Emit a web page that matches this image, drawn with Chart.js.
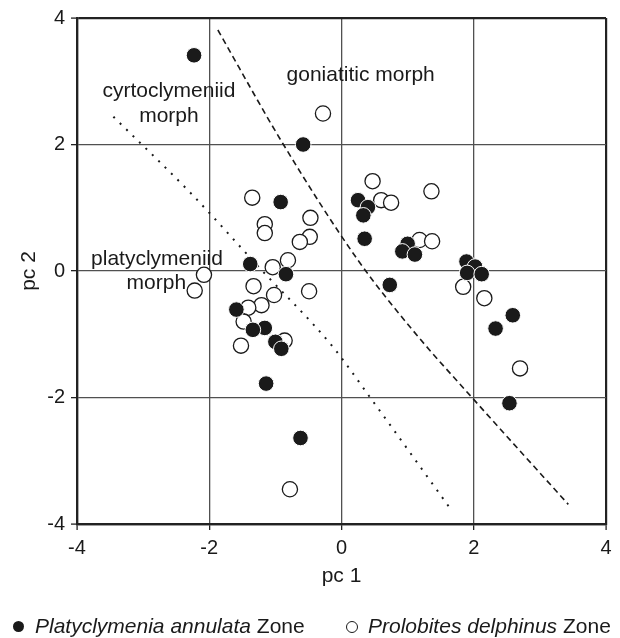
<!DOCTYPE html>
<html>
<head>
<meta charset="utf-8">
<script src="https://cdn.jsdelivr.net/npm/chart.js@4.4.1/dist/chart.umd.min.js"></script>
<style>
  html, body { margin: 0; padding: 0; background: #fff; }
  .wrap { position: relative; width: 620px; height: 638px; }
  .legend { position: absolute; top: 614px; left: 0; width: 620px; height: 24px;
    font-family: "Liberation Sans", Arial, sans-serif; font-size: 21px; color: #1a1a1a; }
  .legend .item { position: absolute; top: 0; white-space: nowrap; line-height: 24px; }
  .legend .dot { position: absolute; top: 7px; width: 11px; height: 11px; border-radius: 50%; box-sizing: border-box; }
  .legend i { font-style: italic; }
</style>
</head>
<body>
<div class="wrap">
  <canvas id="pcaChart" width="620" height="638"></canvas>
  <div class="legend">
    <span class="dot" style="left:13px;background:#1a1a1a;"></span>
    <span class="item" style="left:35px;"><i>Platyclymenia annulata</i> Zone</span>
    <span class="dot" style="left:346px;width:12px;height:12px;border:1.3px solid #1a1a1a;"></span>
    <span class="item" style="left:368px;"><i>Prolobites delphinus</i> Zone</span>
  </div>
</div>
<script>
// pc scores
const annulataX = [-2.23, -0.58, -0.92, -1.38, -0.84, -1.59, -1.16, -1.34, -1.00, -0.91, -1.14, -0.62,
  0.25, 0.40, 0.33, 0.35, 1.00, 0.92, 1.11, 0.73, 1.89, 2.02, 1.90, 2.12, 2.59, 2.33, 2.54];
const annulataY = [3.41, 2.00, 1.09, 0.11, -0.05, -0.61, -0.90, -0.93, -1.12, -1.23, -1.78, -2.64,
  1.12, 1.01, 0.88, 0.51, 0.43, 0.31, 0.26, -0.22, 0.15, 0.07, -0.03, -0.05, -0.70, -0.91, -2.09];

const delphinusX = [-0.28, -1.35, -1.16, -1.16, -0.47, -0.48, -0.63, -0.81, -1.04, -2.08, -2.22, -1.33,
  -0.49, -1.02, -1.21, -1.41, -1.48, -0.86, -1.52, -0.78, 0.47, 1.36, 0.60, 0.75, 1.18, 1.37, 1.84, 2.16, 2.70];
const delphinusY = [2.49, 1.16, 0.74, 0.60, 0.84, 0.54, 0.46, 0.17, 0.06, -0.06, -0.31, -0.24,
  -0.32, -0.38, -0.54, -0.58, -0.80, -1.10, -1.18, -3.45, 1.42, 1.26, 1.12, 1.08, 0.49, 0.47, -0.25, -0.43, -1.54];

// morph boundaries
const dashedX = [-1.87, -0.89, 0.25, 1.08, 1.99, 3.43];
const dashedY = [3.81, 2.02, 0.17, -0.94, -2.02, -3.69];
const dottedX = [-3.45, -2.27, -1.24, -0.13, 0.42, 1.62];
const dottedY = [2.44, 1.22, 0.05, -1.20, -1.98, -3.72];

const tickValues = [-4, -2, 0, 2, 4];

// morph labels, anchored in data units
const morphLabels = [
  { text: 'goniatitic morph', x: 0.29, y: 3.10 },
  { text: 'cyrtoclymeniid', x: -2.61, y: 2.84 },
  { text: 'morph', x: -2.61, y: 2.45 },
  { text: 'platyclymeniid', x: -2.79, y: 0.18 },
  { text: 'morph', x: -2.80, y: -0.19 },
];

const zip = (xs, ys) => xs.map((x, i) => ({ x, y: ys[i] }));
const FONT = '"Liberation Sans", Arial, sans-serif';
const INK = '#1a1a1a';

const labelPlugin = {
  id: 'morphLabels',
  beforeDatasetsDraw(chart) {
    const { ctx, scales } = chart;
    ctx.save();
    ctx.font = '21px ' + FONT;
    ctx.fillStyle = INK;
    ctx.textAlign = 'center';
    ctx.textBaseline = 'middle';
    morphLabels.forEach((l) => {
      ctx.fillText(l.text, scales.x.getPixelForValue(l.x), scales.y.getPixelForValue(l.y));
    });
    ctx.restore();
  },
};

const gridColor = (c) => (Math.abs(c.tick.value) === 4 ? '#222' : '#505050');
const gridWidth = (c) => (Math.abs(c.tick.value) === 4 ? 2.2 : 1.3);

new Chart(document.getElementById('pcaChart'), {
  type: 'scatter',
  data: {
    datasets: [
      {
        label: 'Platyclymenia annulata Zone',
        data: zip(annulataX, annulataY),
        backgroundColor: INK,
        borderColor: '#fff',
        borderWidth: 1,
        pointRadius: 7.8,
        order: 1,
      },
      {
        label: 'Prolobites delphinus Zone',
        data: zip(delphinusX, delphinusY),
        backgroundColor: '#fff',
        borderColor: INK,
        borderWidth: 1.3,
        pointRadius: 7.6,
        order: 2,
      },
      {
        type: 'line',
        data: zip(dashedX, dashedY),
        borderColor: INK,
        borderWidth: 1.6,
        borderDash: [6, 4],
        pointRadius: 0,
        cubicInterpolationMode: 'monotone',
        fill: false,
        order: 3,
      },
      {
        type: 'line',
        data: zip(dottedX, dottedY),
        borderColor: INK,
        borderWidth: 2,
        borderDash: [2, 7],
        pointRadius: 0,
        cubicInterpolationMode: 'monotone',
        fill: false,
        order: 4,
      },
    ],
  },
  options: {
    responsive: false,
    animation: false,
    events: [],
    layout: { padding: { top: 18, right: 14, bottom: 34, left: 0 } },
    plugins: {
      legend: { display: false },
      tooltip: { enabled: false },
    },
    scales: {
      x: {
        type: 'linear',
        min: -4,
        max: 4,
        afterBuildTicks: (s) => { s.ticks = tickValues.map((v) => ({ value: v })); },
        afterFit: (s) => { s.height = 80; },
        ticks: { color: INK, font: { family: FONT, size: 20 }, padding: 6 },
        grid: { color: gridColor, lineWidth: gridWidth, tickLength: 6, tickColor: '#222', tickWidth: 1.3 },
        border: { color: '#222', width: 2.2 },
        title: { display: true, text: 'pc 1', color: INK, font: { family: FONT, size: 21 }, padding: { top: 0, bottom: 15 } },
      },
      y: {
        type: 'linear',
        min: -4,
        max: 4,
        afterBuildTicks: (s) => { s.ticks = tickValues.map((v) => ({ value: v })); },
        afterFit: (s) => { s.width = 77; },
        ticks: { color: INK, font: { family: FONT, size: 20 }, padding: 6 },
        grid: { color: gridColor, lineWidth: gridWidth, tickLength: 6, tickColor: '#222', tickWidth: 1.3 },
        border: { color: '#222', width: 2.2 },
        title: { display: true, text: 'pc 2', color: INK, font: { family: FONT, size: 21 }, padding: { top: 17, bottom: 0 } },
      },
    },
  },
  plugins: [labelPlugin],
});
</script>
</body>
</html>
